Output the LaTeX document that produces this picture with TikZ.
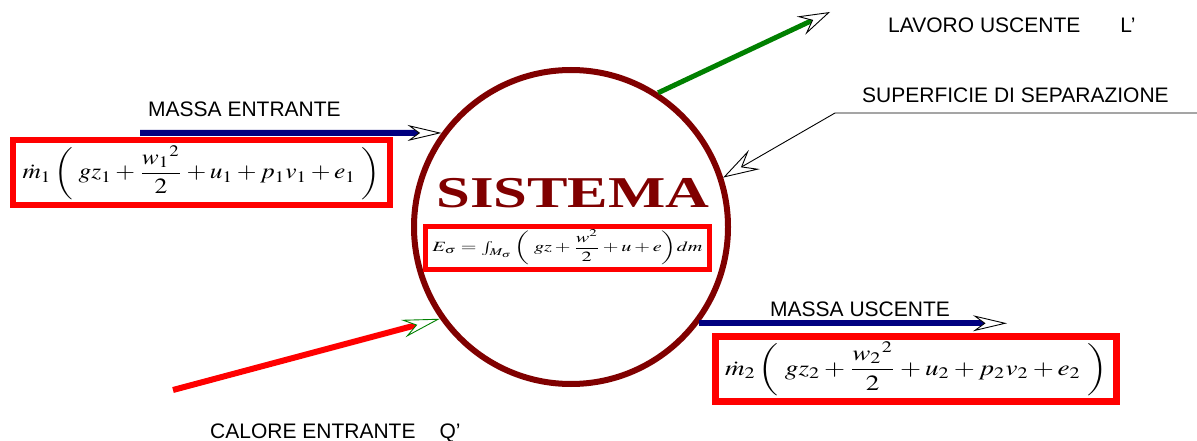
\documentclass[tikz,border=0pt]{standalone}
\usepackage{amsmath}
\usepackage{mathptmx}
\usepackage{fontspec}
\setmainfont{Liberation Serif}
\newfontfamily\labelfont{Liberation Sans}
\usepackage{graphicx}
\usetikzlibrary{arrows.meta}
\definecolor{sysred}{RGB}{128,0,0}
\definecolor{massblue}{RGB}{0,0,128}
\definecolor{workgreen}{RGB}{0,128,0}

\begin{document}
\begin{tikzpicture}[
				x=1pt,y=-1pt,
				sysring/.style={
					circle,
					draw=sysred,
					line width=6pt,
					minimum size=314pt,
					inner sep=0pt
				},
				eqbox/.style={
					rectangle,
					draw=red,
					line width=6pt,
					inner sep=0pt
				},
				lab/.style={font=\labelfont\fontsize{21}{24}\selectfont, inner sep=0pt},
				massflow/.style={draw=massblue,line width=6pt,-{Stealth[length=34pt,width=16pt,inset=11pt,color=black,fill=white,line width=0.9pt]}},
				workflow/.style={draw=workgreen,line width=5pt,-{Stealth[length=32pt,width=20pt,inset=12pt,color=black,fill=white,line width=0.9pt]}},
				heatflow/.style={draw=red,line width=6pt,-{Stealth[length=38pt,width=18pt,inset=13pt,color=workgreen,fill=white,line width=0.9pt]}},
				pointer/.style={draw=black,line width=0.9pt,-{Stealth[length=36pt,width=22pt,inset=14pt,color=black,fill=white,line width=0.9pt]}}
				]
				\useasboundingbox (0,0) rectangle (1197,441);
				
				\node[sysring] (sys) at (571,227) {};
				\node[anchor=base, text=sysred, inner sep=0pt, font=\bfseries\fontsize{44}{48}\selectfont] (systitle) at (573,207) {\scalebox{1.38}[1]{SISTEMA}};
				
				\node[eqbox, minimum width=377pt, minimum height=65pt] (eqin) at (201.5,172.5)
					{\resizebox*{358pt}{54pt}{$\dot{m}_1\left(\; gz_1+\dfrac{{w_1}^{2}}{2}+u_1+p_1v_1+e_1\;\right)$}};
				\node[eqbox, line width=5pt, minimum width=284pt, minimum height=43pt] (eqsys) at (567.5,247.5)
					{\resizebox*{270pt}{35pt}{$E_\sigma={\textstyle\int_{M_\sigma}}\left(\; gz+\dfrac{w^{2}}{2}+u+e\right)\!dm$}};
				\node[eqbox, line width=7pt, minimum width=401pt, minimum height=65pt] (eqout) at (916,369)
					{\resizebox*{382pt}{54pt}{$\dot{m}_2\left(\; gz_2+\dfrac{{w_2}^{2}}{2}+u_2+p_2v_2+e_2\;\right)$}};
				
				\node[lab, anchor=base west] (inlab) at (148,117) {MASSA ENTRANTE};
				\node[lab, anchor=base west] (worklab) at (888,33) {LAVORO USCENTE\hspace{40pt}L’};
				\node[lab, anchor=base west] (surflab) at (862,103) {SUPERFICIE DI SEPARAZIONE};
				\node[lab, anchor=base west] (outlab) at (770,316) {MASSA USCENTE};
				\node[lab, anchor=base west] (heatlab) at (210,438) {CALORE ENTRANTE\hspace{24pt}Q’};
				
				\coordinate (instart) at (140,133);
				\coordinate (workend) at (830,12);
				\coordinate (surfend) at (1197,113);
				\coordinate (surfbend) at (835,113);
				\coordinate (outend) at (1007,322);
				\coordinate (heatstart) at (173,390);
				
				\draw[massflow] (instart) -- (sys.144);
				\draw[workflow] (sys.57) -- (workend);
				\draw[pointer] (surfend) -- (surfbend) -- (sys.18);
				\draw[massflow] (sys.-37) -- (sys.-37 -| outend);
				\draw[heatflow] (heatstart) -- (sys.215);
		\end{tikzpicture}
\end{document}
